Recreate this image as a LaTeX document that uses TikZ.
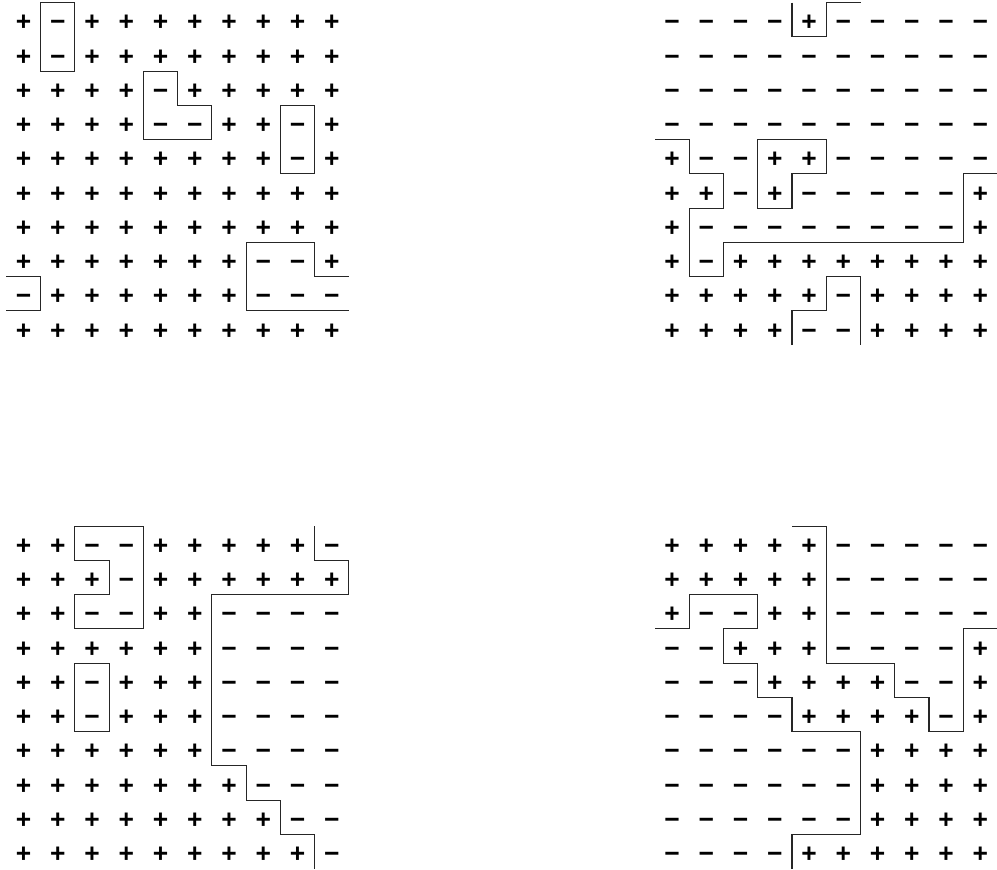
\documentclass[tikz,border=0pt]{standalone}
\usepackage{fontspec}
\setmainfont{Liberation Sans}
\tikzset{
  sym/.style={inner sep=0pt, anchor=base, font=\fontsize{15pt}{15pt}\selectfont\bfseries},
  wall/.style={draw=black!85, line width=0.6pt, line join=miter}
}
\newcommand\spingrid[2]{%
  \foreach \row [count=\j from 0] in {#2} {
    \foreach \s [count=\i from 0] in \row {
      \node[sym] (#1-\i-\j) at (\i+0.5,\j+0.825) {\if\s p+\else −\fi};
    }
  }%
}
\begin{document}
\begin{tikzpicture}[x=0.685cm,y=-0.685cm]
\useasboundingbox (0,0) rectangle (29.109,25.401);

% top left
\begin{scope}[shift={(0.187,0.079)}]
\spingrid{tl}{{p,m,p,p,p,p,p,p,p,p},{p,m,p,p,p,p,p,p,p,p},{p,p,p,p,m,p,p,p,p,p},{p,p,p,p,m,m,p,p,m,p},{p,p,p,p,p,p,p,p,m,p},{p,p,p,p,p,p,p,p,p,p},{p,p,p,p,p,p,p,p,p,p},{p,p,p,p,p,p,p,m,m,p},{m,p,p,p,p,p,p,m,m,m},{p,p,p,p,p,p,p,p,p,p}}
\draw[wall] (1,0) rectangle (2,2);
\draw[wall] (4,2) -- (5,2) -- (5,3) -- (6,3) -- (6,4) -- (4,4) -- cycle;
\draw[wall] (8,3) rectangle (9,5);
\draw[wall] (0,8) -- (1,8) -- (1,9) -- (0,9);
\draw[wall] (10,8) -- (9,8) -- (9,7) -- (7,7) -- (7,9) -- (10,9);
\end{scope}

% top right
\begin{scope}[shift={(19.124,0.079)}]
\spingrid{tr}{{m,m,m,m,p,m,m,m,m,m},{m,m,m,m,m,m,m,m,m,m},{m,m,m,m,m,m,m,m,m,m},{m,m,m,m,m,m,m,m,m,m},{p,m,m,p,p,m,m,m,m,m},{p,p,m,p,m,m,m,m,m,p},{p,m,m,m,m,m,m,m,m,p},{p,m,p,p,p,p,p,p,p,p},{p,p,p,p,p,m,p,p,p,p},{p,p,p,p,m,m,p,p,p,p}}
\draw[wall] (4,0) -- (4,1) -- (5,1) -- (5,0) -- (6,0);
\draw[wall] (0,4) -- (1,4) -- (1,5) -- (2,5) -- (2,6) -- (1,6) -- (1,8) -- (2,8) -- (2,7) -- (9,7) -- (9,5) -- (10,5);
\draw[wall] (3,4) -- (5,4) -- (5,5) -- (4,5) -- (4,6) -- (3,6) -- cycle;
\draw[wall] (4,10) -- (4,9) -- (5,9) -- (5,8) -- (6,8) -- (6,10);
\end{scope}

% bottom left
\begin{scope}[shift={(0.187,15.358)}]
\spingrid{bl}{{p,p,m,m,p,p,p,p,p,m},{p,p,p,m,p,p,p,p,p,p},{p,p,m,m,p,p,m,m,m,m},{p,p,p,p,p,p,m,m,m,m},{p,p,m,p,p,p,m,m,m,m},{p,p,m,p,p,p,m,m,m,m},{p,p,p,p,p,p,m,m,m,m},{p,p,p,p,p,p,p,m,m,m},{p,p,p,p,p,p,p,p,m,m},{p,p,p,p,p,p,p,p,p,m}}
\draw[wall] (2,0) -- (4,0) -- (4,3) -- (2,3) -- (2,2) -- (3,2) -- (3,1) -- (2,1) -- cycle;
\draw[wall] (2,4) rectangle (3,6);
\draw[wall] (9,0) -- (9,1) -- (10,1) -- (10,2) -- (6,2) -- (6,7) -- (7,7) -- (7,8) -- (8,8) -- (8,9) -- (9,9) -- (9,10);
\end{scope}

% bottom right
\begin{scope}[shift={(19.124,15.358)}]
\spingrid{br}{{p,p,p,p,p,m,m,m,m,m},{p,p,p,p,p,m,m,m,m,m},{p,m,m,p,p,m,m,m,m,m},{m,m,p,p,p,m,m,m,m,p},{m,m,m,p,p,p,p,m,m,p},{m,m,m,m,p,p,p,p,m,p},{m,m,m,m,m,m,p,p,p,p},{m,m,m,m,m,m,p,p,p,p},{m,m,m,m,m,m,p,p,p,p},{m,m,m,m,p,p,p,p,p,p}}
\draw[wall] (4,0) -- (5,0) -- (5,4) -- (7,4) -- (7,5) -- (8,5) -- (8,6) -- (9,6) -- (9,3) -- (10,3);
\draw[wall] (0,3) -- (1,3) -- (1,2) -- (3,2) -- (3,3) -- (2,3) -- (2,4) -- (3,4) -- (3,5) -- (4,5) -- (4,6) -- (6,6) -- (6,9) -- (4,9) -- (4,10);
\end{scope}
\end{tikzpicture}
\end{document}
